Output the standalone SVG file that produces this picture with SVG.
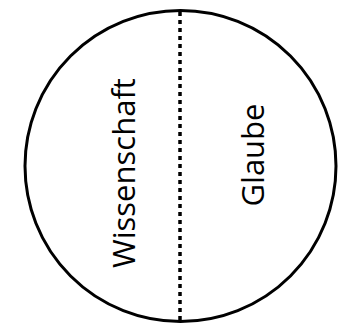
<svg xmlns="http://www.w3.org/2000/svg" width="345" height="325" viewBox="0 0 345 325">
<style>
.lbl{font-family:"Open Sans","Liberation Sans",sans-serif;font-size:31px;fill:#000;text-anchor:middle}
</style>
<rect width="345" height="325" fill="#fff"/>
<g id="circle">
<circle cx="180.5" cy="166" r="155.5" fill="none" stroke="#000" stroke-width="3"/>
</g>
<g id="connectors">
<line x1="180" y1="12" x2="180" y2="321" stroke="#000" stroke-width="3.5" stroke-dasharray="4 4"/>
</g>
<g id="wissenschaft">
<text class="lbl" transform="translate(135,173) rotate(-90)">Wissenschaft</text>
</g>
<g id="glaube">
<text class="lbl" transform="translate(264,155) rotate(-90)">Glaube</text>
</g>
</svg>
